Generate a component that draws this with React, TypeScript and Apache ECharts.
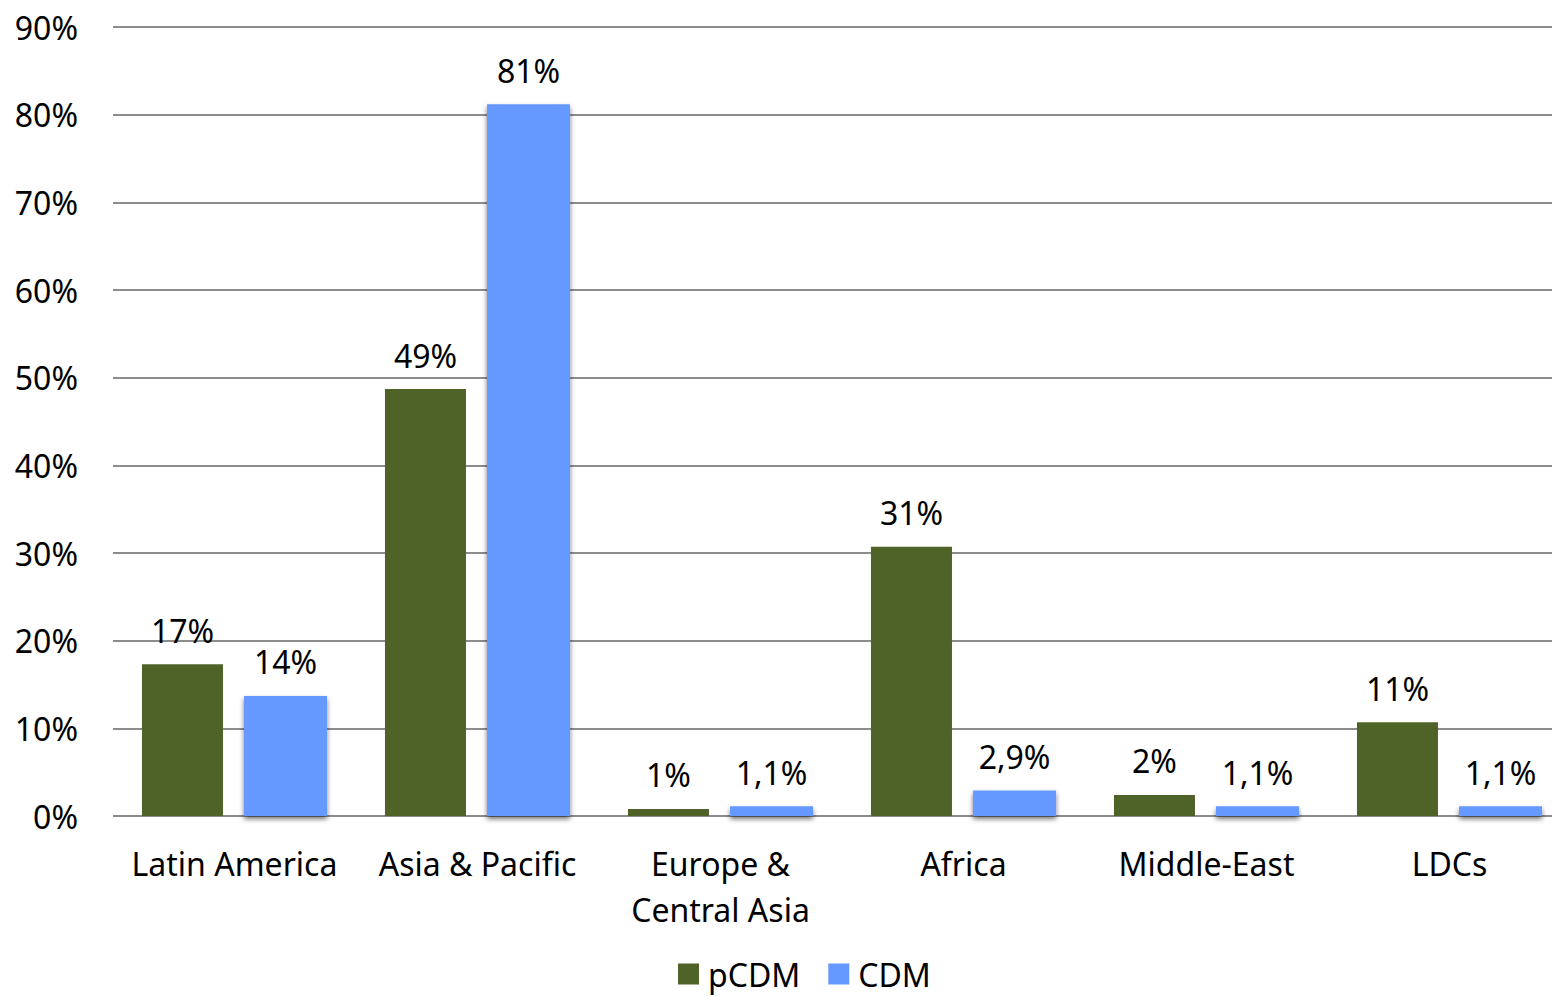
import React, { useEffect, useRef } from "react";
import * as echarts from "echarts";

const categories = ["Latin America", "Asia & Pacific", "Europe &\nCentral Asia", "Africa", "Middle-East", "LDCs"];
const pcdmValues = [17.3, 48.7, 0.8, 30.7, 2.4, 10.7];
const cdmValues = [13.7, 81.2, 1.1, 2.9, 1.1, 1.1];
const yTicks = [0, 10, 20, 30, 40, 50, 60, 70, 80, 90];

const FONT = "'Noto Sans', 'Open Sans', sans-serif";
const FS = 32;

const fmtGreen = (v: number) => Math.round(v) + "%";
const fmtBlue = (v: number) =>
  v >= 10 ? Math.round(v) + "%" : v.toFixed(1).replace(".", ",") + "%";

export default function App() {
  const ref = useRef<HTMLDivElement>(null);
  useEffect(() => {
    if (!ref.current) return;
    const chart = echarts.init(ref.current, undefined, { renderer: "svg" });
    chart.setOption({
      animation: false,
      backgroundColor: "#ffffff",
      grid: {
        left: 113,
        right: -19,
        top: 27,
        bottom: 180,
        containLabel: false,
        outerBoundsMode: "none",
      },
      legend: {
        top: 953,
        left: 673,
        itemWidth: 21,
        itemHeight: 21,
        itemGap: 28,
        icon: "rect",
        textStyle: { fontFamily: FONT, fontSize: FS, color: "#000", padding: [0, 0, 0, 4] },
        data: ["pCDM", "CDM"],
      },
      xAxis: {
        type: "category",
        data: categories,
        axisLine: { show: false },
        axisTick: { show: false },
        axisLabel: {
          fontFamily: FONT,
          fontSize: FS,
          color: "#000",
          margin: 24,
          lineHeight: 46,
          interval: 0,
        },
      },
      yAxis: {
        type: "value",
        min: 0,
        max: 90,
        interval: 10,
        axisLine: { show: false },
        axisTick: { show: false },
        axisLabel: {
          fontFamily: FONT,
          fontSize: FS,
          color: "#000",
          margin: 35,
          formatter: (v: number) => (yTicks.includes(v) ? v + "%" : ""),
        },
        splitLine: {
          show: true,
          lineStyle: {
            color: "#8c8c8c",
            width: 2,
            type: "solid",
          },
        },
      },
      series: [
        {
          name: "pCDM",
          type: "bar",
          data: pcdmValues,
          barWidth: 81,
          barGap: "26%",
          itemStyle: { color: "#4F6228" },
          label: {
            show: true,
            position: "top",
            distance: 18,
            fontFamily: FONT,
            fontSize: FS,
            color: "#000",
            formatter: (p: any) => fmtGreen(p.value),
          },
        },
        {
          name: "CDM",
          type: "bar",
          data: cdmValues,
          barWidth: 83,
          itemStyle: {
            color: "#6699FF",
            shadowColor: "rgba(0,0,0,0.55)",
            shadowBlur: 5,
            shadowOffsetY: 3,
          },
          label: {
            show: true,
            position: "top",
            distance: 18,
            fontFamily: FONT,
            fontSize: FS,
            color: "#000",
            formatter: (p: any) => fmtBlue(p.value),
          },
        },
      ],
    });
    return () => chart.dispose();
  }, []);
  return (
    <div
      ref={ref}
      style={{ position: "absolute", left: 0, top: 0, width: 1552, height: 996, overflow: "hidden" }}
    />
  );
}
